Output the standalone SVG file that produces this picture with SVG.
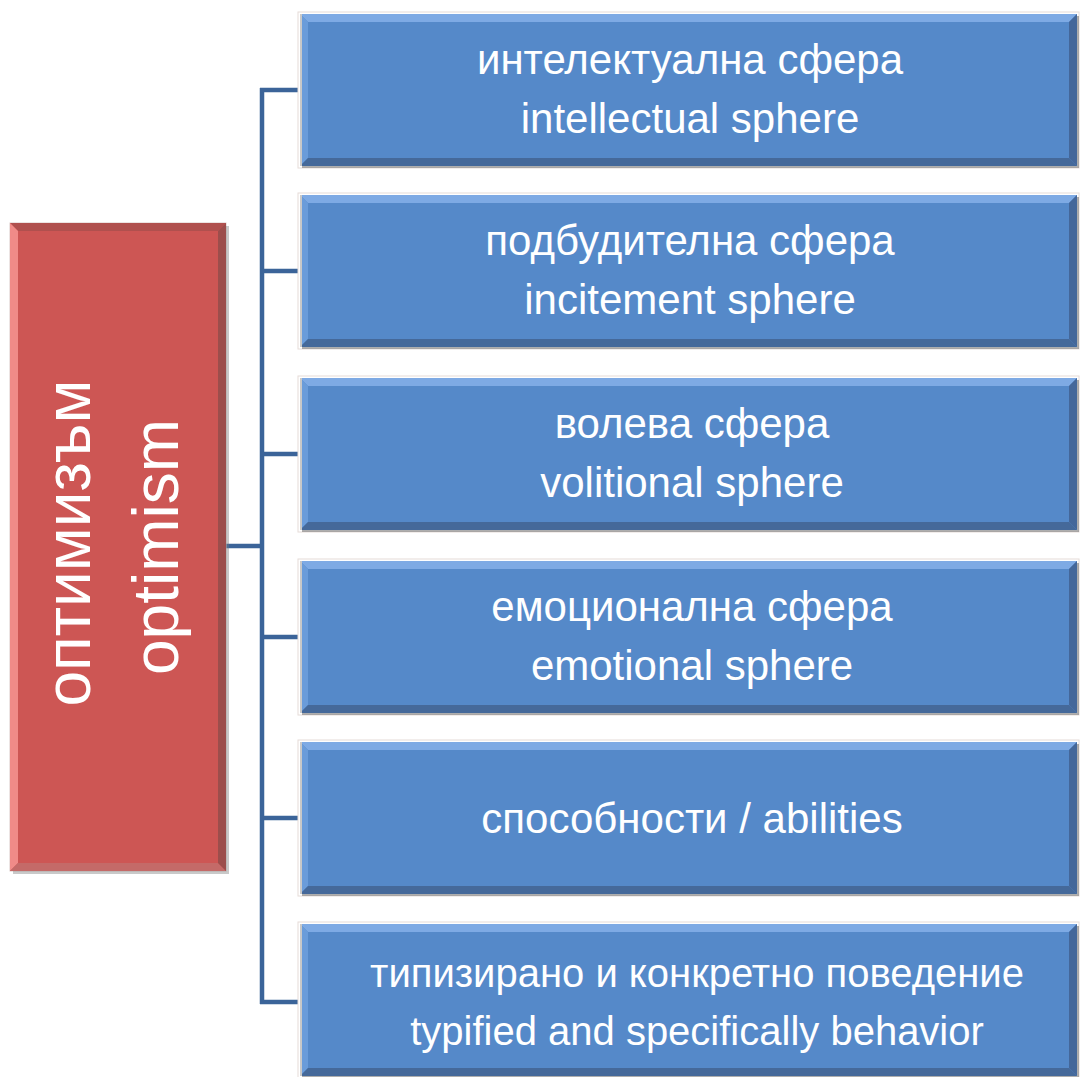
<svg xmlns="http://www.w3.org/2000/svg" xmlns:xlink="http://www.w3.org/1999/xlink" width="1083" height="1077" viewBox="0 0 1083 1077">
<style>
.t{font-family:"Liberation Sans",Arial,sans-serif;font-size:42px;fill:#ffffff;text-anchor:middle}
.s{font-size:40px}
.r{font-family:"Liberation Sans",Arial,sans-serif;font-size:64px;fill:#ffffff;text-anchor:middle}
.conn{stroke:#3B6499;stroke-width:4.5;fill:none}
</style>
<defs>
<g id="bb">
<rect x="-2" y="-2" width="781" height="156" fill="#ffffff" stroke="#e6dcd8" stroke-width="1"/>
<rect x="2" y="2" width="777" height="152" fill="#6b6b6b" opacity="0.55"/>
<rect x="0" y="0" width="777" height="152" fill="#5589C9"/>
<polygon points="0,0 777,0 769,8 8,8" fill="#7EAAE4"/>
<polygon points="0,0 8,8 8,144 0,152" fill="#6A9CDA"/>
<polygon points="0,152 8,144 769,144 777,152" fill="#45699A"/>
<polygon points="777,0 777,152 769,144 769,8" fill="#44679A"/>
<rect x="0" y="0" width="2" height="152" fill="#c8c8c8"/>
</g>
</defs>
<g id="connectors">
<line class="conn" x1="226" y1="546" x2="262" y2="546"/>
<line class="conn" x1="262" y1="88" x2="262" y2="1004"/>
<line class="conn" x1="260" y1="90" x2="300" y2="90"/>
<line class="conn" x1="260" y1="271" x2="300" y2="271"/>
<line class="conn" x1="260" y1="454" x2="300" y2="454"/>
<line class="conn" x1="260" y1="637" x2="300" y2="637"/>
<line class="conn" x1="260" y1="818" x2="300" y2="818"/>
<line class="conn" x1="260" y1="1002" x2="300" y2="1002"/>
</g>
<g id="root">
<rect x="10" y="223" width="216" height="648" fill="#ffffff" stroke="#d9c9c8" stroke-width="1"/>
<rect x="13" y="226" width="216" height="648" fill="#777" opacity="0.4"/>
<rect x="10" y="223" width="216" height="648" fill="#CD5654"/>
<polygon points="10,223 226,223 218,231 18,231" fill="#B0504E"/>
<polygon points="10,223 18,231 18,863 10,871" fill="#F08B88"/>
<polygon points="10,871 18,863 218,863 226,871" fill="#C46A68"/>
<polygon points="226,223 226,871 218,863 218,231" fill="#9C4E4C"/>
<text class="r" transform="translate(90,543) rotate(-90)">оптимизъм</text>
<text class="r" transform="translate(178,547) rotate(-90)">optimism</text>
</g>
<g id="n1">
<use xlink:href="#bb" x="300" y="14"/>
<text class="t" x="690" y="74">интелектуална сфера</text>
<text class="t" x="690" y="133">intellectual sphere</text>
</g>
<g id="n2">
<use xlink:href="#bb" x="300" y="195"/>
<text class="t" x="690" y="255">подбудителна сфера</text>
<text class="t" x="690" y="314">incitement sphere</text>
</g>
<g id="n3">
<use xlink:href="#bb" x="300" y="378"/>
<text class="t" x="692" y="438">волева сфера</text>
<text class="t" x="692" y="497">volitional sphere</text>
</g>
<g id="n4">
<use xlink:href="#bb" x="300" y="561"/>
<text class="t" x="692" y="621">емоционална сфера</text>
<text class="t" x="692" y="680">emotional sphere</text>
</g>
<g id="n5">
<use xlink:href="#bb" x="300" y="742"/>
<text class="t" x="692" y="833">способности / abilities</text>
</g>
<g id="n6">
<use xlink:href="#bb" x="300" y="924"/>
<text class="t s" x="697" y="987">типизирано и конкретно поведение</text>
<text class="t s" x="697" y="1045">typified and specifically behavior</text>
</g>
</svg>
